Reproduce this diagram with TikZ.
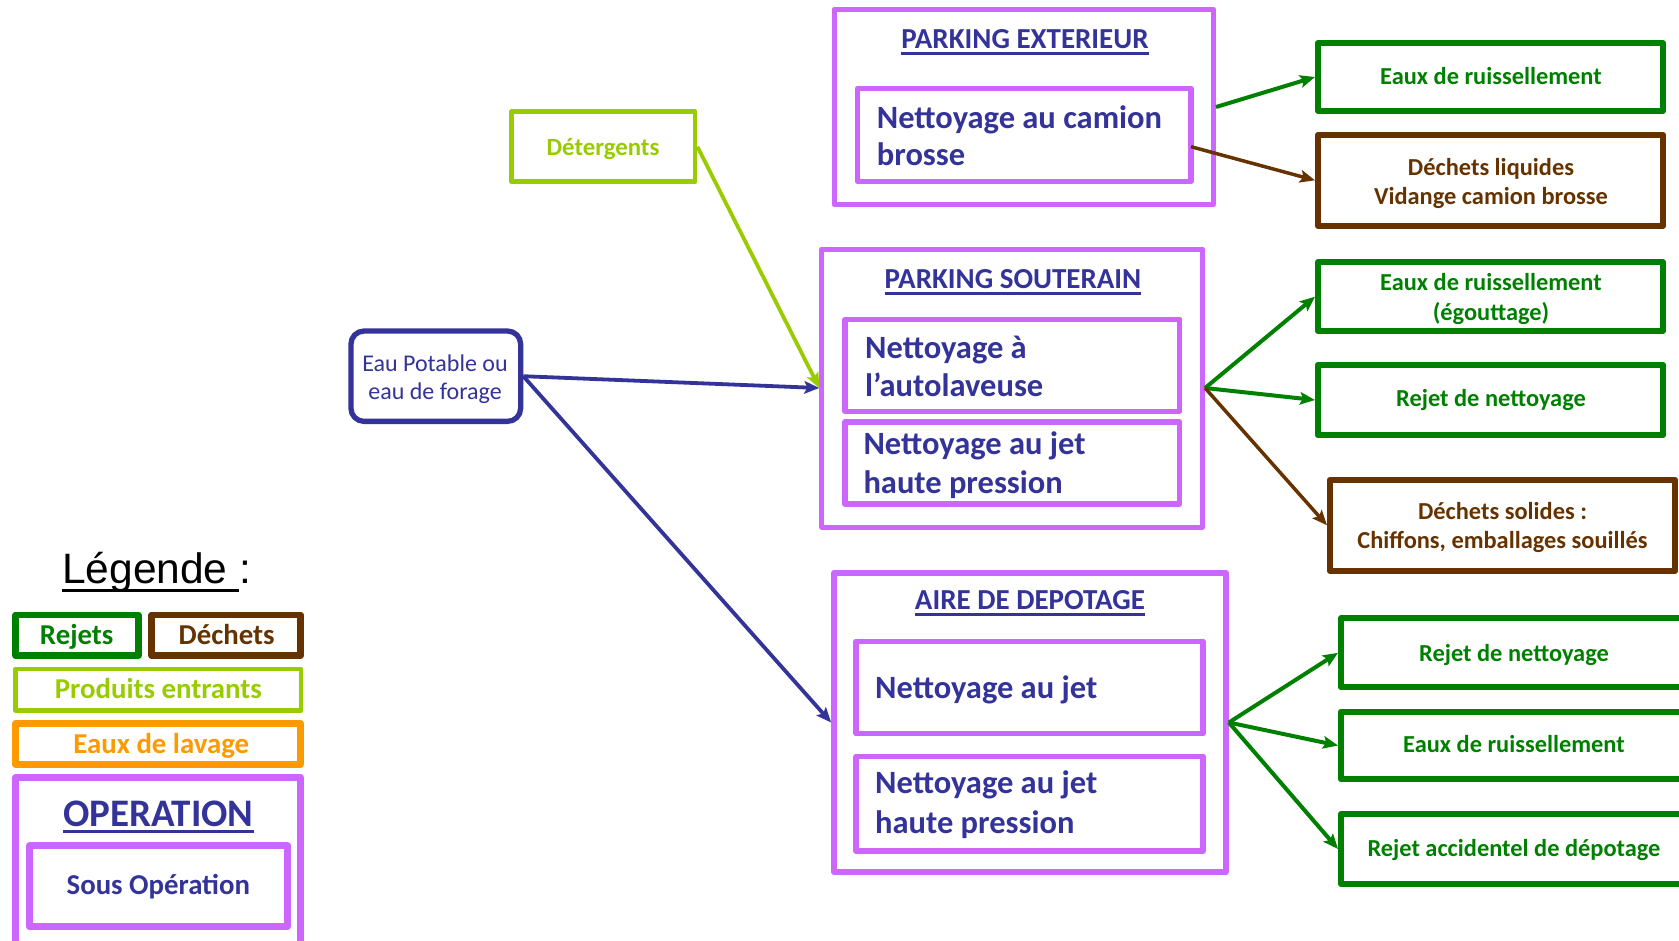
\documentclass[tikz,border=0pt]{standalone}
\usepackage{fontspec}
\setmainfont{Carlito}
\newfontfamily\arialf{Liberation Sans}
\usetikzlibrary{arrows.meta}
\definecolor{opurple}{HTML}{CC66FF}
\definecolor{dblue}{HTML}{333399}
\definecolor{rgreen}{HTML}{008000}
\definecolor{dbrown}{HTML}{663300}
\definecolor{lgreen}{HTML}{99CC00}
\definecolor{orng}{HTML}{FF9900}
\newcommand{\ulbox}[3]{\setbox0=\hbox{#3}\leavevmode\rlap{\rule[-#1]{\wd0}{#2}}\box0}
\begin{document}
\begin{tikzpicture}[x=1pt,y=-1pt,
  box/.style={draw, fill=white, inner sep=0pt, line join=round},
  opbox/.style={box, draw=opurple, line width=5.3pt},
  rbox/.style={box, draw=rgreen, line width=6pt},
  dbox/.style={box, draw=dbrown, line width=6pt},
  titletxt/.style={inner sep=0pt, text=dblue, font=\bfseries\fontsize{29}{34}\selectfont, anchor=base},
  optxt/.style={inner sep=0pt, text=dblue, font=\bfseries\fontsize{32.5}{37.7}\selectfont, align=left, anchor=base west},
  rtxt/.style={inner sep=0pt, text=rgreen, font=\bfseries\fontsize{24.4}{29}\selectfont, align=center, anchor=base},
  dtxt/.style={inner sep=0pt, text=dbrown, font=\bfseries\fontsize{24.4}{29}\selectfont, align=center, anchor=base},
  legtxt/.style={inner sep=0pt, font=\bfseries\fontsize{28.8}{32}\selectfont, anchor=base},
  arr/.style={-{Stealth[length=15pt,width=12.5pt,inset=3pt]}},
  garr/.style={arr, draw=rgreen, fill=rgreen, line width=4pt},
  barr/.style={arr, draw=dbrown, fill=dbrown, line width=3.5pt},
  blarr/.style={arr, draw=dblue, fill=dblue, line width=3.8pt},
  lgarr/.style={arr, draw=lgreen, fill=lgreen, line width=3.8pt}
]
\useasboundingbox (0,0) rectangle (1679,940);
\clip (0,0) rectangle (1679,940);

% ---------- PARKING EXTERIEUR ----------
\node[opbox, line width=5pt, minimum width=379.5pt, minimum height=195pt] (pe) at (1023.75,107) {};
\node[opbox, minimum width=333.7pt, minimum height=93pt] (pe1) at (1024.2,134.8) {};
\node[titletxt] (pet) at (1025,48) {\ulbox{6.5pt}{3pt}{PARKING EXTERIEUR}};
\node[optxt] (pe1t) at (876.7,165.7) {Nettoyage au camion\\brosse};

% ---------- PARKING SOUTERAIN ----------
\node[opbox, line width=5pt, minimum width=380.7pt, minimum height=278pt] (ps) at (1012.2,388) {};
\node[opbox, minimum width=334.7pt, minimum height=92pt] (ps1) at (1012.4,365.3) {};
\node[opbox, minimum width=334.7pt, minimum height=82pt] (ps2) at (1012.4,463) {};
\node[titletxt] (pst) at (1013,288.3) {\ulbox{6.5pt}{3pt}{PARKING SOUTERAIN}};
\node[optxt] (ps1t) at (865,396) {Nettoyage à\\l’autolaveuse};
\node[optxt] (ps2t) at (863.3,493.3) {Nettoyage au jet\\[1.3pt]haute pression};

% ---------- AIRE DE DEPOTAGE ----------
\node[opbox, line width=5.7pt, minimum width=392pt, minimum height=299pt] (ad) at (1030,722.5) {};
\node[opbox, minimum width=347pt, minimum height=92.4pt] (ad1) at (1029.5,687.5) {};
\node[opbox, minimum width=347pt, minimum height=94.7pt] (ad2) at (1029.5,803.7) {};
\node[titletxt] (adt) at (1030,609.3) {\ulbox{6.5pt}{3pt}{AIRE DE DEPOTAGE}};
\node[optxt] (ad1t) at (875,698.3) {Nettoyage au jet};
\node[optxt] (ad2t) at (875,833.3) {Nettoyage au jet\\[2.3pt]haute pression};

% ---------- right column ----------
\node[rbox, minimum width=345pt, minimum height=68pt] (r1) at (1490.5,77) {};
\node[rtxt] (r1t) at (1491,84.3) {Eaux de ruissellement};
\node[dbox, minimum width=345pt, minimum height=91.3pt] (d1) at (1490.5,180.3) {};
\node[dtxt] (d1t) at (1491,204) {Déchets liquides\\Vidange camion brosse};
\node[rbox, minimum width=345pt, minimum height=68.7pt] (r2) at (1490.5,296.7) {};
\node[rtxt] (r2t) at (1491,320) {Eaux de ruissellement\\[1pt](égouttage)};
\node[rbox, minimum width=345pt, minimum height=70.6pt] (r3) at (1490.5,400) {};
\node[rtxt] (r3t) at (1491,406.7) {Rejet de nettoyage};
\node[dbox, minimum width=345pt, minimum height=91.3pt] (d2) at (1502.5,525.3) {};
\node[dtxt] (d2t) at (1502.5,548.3) {Déchets solides :\\Chiffons, emballages souillés};
\node[rbox, minimum width=346pt, minimum height=69pt] (r4) at (1514,652.8) {};
\node[rtxt] (r4t) at (1514,661.7) {Rejet de nettoyage};
\node[rbox, minimum width=346pt, minimum height=67.6pt] (r5) at (1514,745.5) {};
\node[rtxt] (r5t) at (1514,752.7) {Eaux de ruissellement};
\node[rbox, minimum width=346pt, minimum height=70pt] (r6) at (1514,849) {};
\node[rtxt] (r6t) at (1514,856.7) {Rejet accidentel de dépotage};

% ---------- inputs ----------
\node[box, draw=lgreen, line width=4.7pt, minimum width=183.7pt, minimum height=70pt] (det) at (603.2,146.7) {};
\node[inner sep=0pt, text=lgreen, font=\bfseries\fontsize{24.8}{29}\selectfont, anchor=base] (dett) at (603,155) {Détergents};
\node[box, draw=dblue, line width=5.3pt, rounded corners=13pt, minimum width=169.7pt, minimum height=90.3pt] (eau) at (435.8,376.2) {};
\node[inner sep=0pt, text=dblue, font=\fontsize{24}{27.6}\selectfont, align=center, anchor=base] (eaut) at (435,399.3) {Eau Potable ou\\eau de forage};

% ---------- legend ----------
\node[inner sep=0pt, font=\arialf\fontsize{42.5}{48}\selectfont, anchor=base west] (leg) at (62,583.3) {\ulbox{8.3pt}{2.7pt}{Légende\ }:};
\node[box, draw=rgreen, line width=6.7pt, minimum width=122.6pt, minimum height=40.7pt] (lrej) at (77,635.3) {};
\node[legtxt, text=rgreen] (lrejt) at (76.7,644) {Rejets};
\node[box, draw=dbrown, line width=6.7pt, minimum width=149pt, minimum height=40.7pt] (ldec) at (226.2,635.3) {};
\node[legtxt, text=dbrown] (ldect) at (226.7,644) {Déchets};
\node[box, draw=lgreen, line width=4.7pt, minimum width=285.3pt, minimum height=41.3pt] (lpro) at (158.3,689.7) {};
\node[legtxt, text=lgreen] (lprot) at (158.3,698.3) {Produits entrants};
\node[box, draw=orng, line width=6.7pt, minimum width=285pt, minimum height=41pt] (llav) at (158.2,743.8) {};
\node[legtxt, text=orng] (llavt) at (161.3,753.3) {Eaux de lavage};
\node[box, draw=opurple, line width=6.7pt, minimum width=285pt, minimum height=182.6pt] (lop) at (158.2,868.8) {};
\node[inner sep=0pt, text=dblue, font=\bfseries\fontsize{39}{44}\selectfont, anchor=base] (lopt) at (158.3,826) {\ulbox{7.3pt}{3.3pt}{OPERATION}};
\node[box, draw=opurple, line width=6.7pt, minimum width=258pt, minimum height=81pt] (lsop) at (158.3,886.2) {};
\node[legtxt, text=dblue] (lsopt) at (158.3,894) {Sous Opération};

% ---------- connectors ----------
\coordinate (peo) at (1216,107);
\coordinate (pe1o) at (1191,146.7);
\draw[garr] (peo) -- (r1.west);
\draw[barr] (pe1o) -- (d1.west);
\draw[garr] (ps.east) -- (r2.west);
\draw[garr] (ps.east) -- (r3.west);
\draw[barr] (ps.east) -- (d2.west);
\draw[garr] (ad.east) -- (r4.west);
\draw[garr] (ad.east) -- (r5.west);
\draw[garr] (ad.east) -- (r6.west);
\draw[lgarr] (det.east) -- (ps.west);
\draw[blarr] (eau.east) -- (ps.west);
\draw[blarr] (eau.east) -- (ad.west);
\end{tikzpicture}
\end{document}
